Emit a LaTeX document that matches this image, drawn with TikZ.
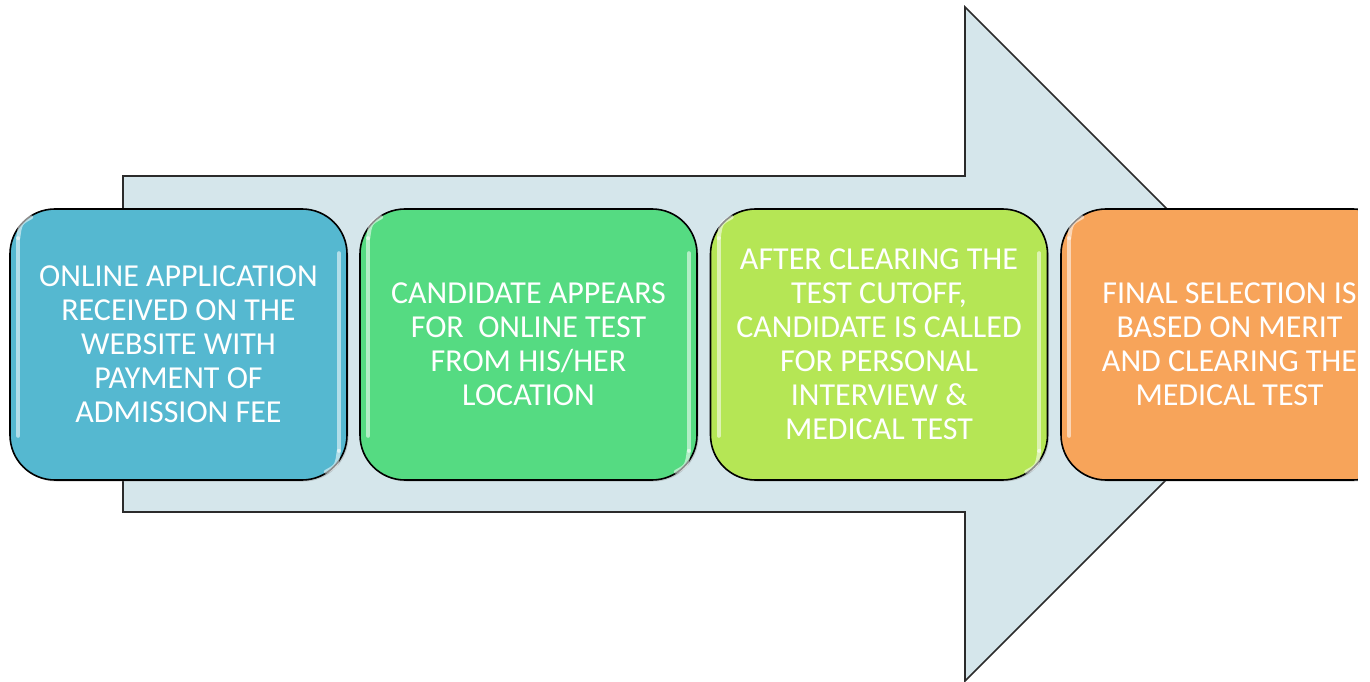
\documentclass[tikz,border=0pt]{standalone}
\usepackage{fontspec}
\setmainfont{Carlito}
\usetikzlibrary{shadows}
\definecolor{arrowfill}{HTML}{D5E6EB}
\definecolor{arrowline}{HTML}{2B2B2B}
\definecolor{cblue}{HTML}{55B8D0}
\definecolor{cgreen}{HTML}{55DB82}
\definecolor{clime}{HTML}{B5E655}
\definecolor{corange}{HTML}{F7A45A}
\tikzset{
  stagebox/.style={draw=black, line width=1.6pt, rounded corners=45pt,
    minimum width=337pt, minimum height=271pt, inner sep=0pt,
    align=center, text=white, font=\fontsize{32}{34}\selectfont,
    drop shadow={shadow xshift=1.5pt, shadow yshift=-1.5pt, opacity=0.35}},
  gloss/.style={white, opacity=0.55, line width=4pt, line cap=round},
  bigarrow/.style={fill=arrowfill, draw=arrowline, line width=1.6pt, line join=miter}
}
\begin{document}
\begin{tikzpicture}[x=1pt,y=1pt]
\useasboundingbox (0,0) rectangle (1370,681);
\fill[white] (0,0) rectangle (1370,681);
% big arrow
\draw[bigarrow] (123,505) -- (965,505) -- (965,674) -- (1302,337) -- (965,0) -- (965,169) -- (123,169) -- cycle;
% stage boxes
\node[stagebox, fill=cblue] (s1) at (178.5,336.5) {ONLINE APPLICATION\\RECEIVED ON THE\\WEBSITE WITH\\PAYMENT OF\\ADMISSION FEE};
\node[stagebox, fill=cgreen] (s2) at (528.5,336.5) {CANDIDATE APPEARS\\FOR\ \ ONLINE TEST\\FROM HIS/HER\\LOCATION};
\node[stagebox, fill=clime] (s3) at (879,336.5) {AFTER CLEARING THE\\TEST CUTOFF,\\CANDIDATE IS CALLED\\FOR PERSONAL\\INTERVIEW \&\\MEDICAL TEST};
\begin{scope}
\clip (0,0) rectangle (1358,681);
\node[stagebox, fill=corange] (s4) at (1229.5,336.5) {FINAL SELECTION IS\\BASED ON MERIT\\AND CLEARING THE\\MEDICAL TEST};
\end{scope}
% glossy highlights
\foreach \b in {s1,s2,s3}{
  \draw[gloss] ([xshift=9pt,yshift=-30pt]\b.north west) .. controls ([xshift=11pt,yshift=-15pt]\b.north west) .. ([xshift=22pt,yshift=-9pt]\b.north west);
  \draw[gloss] ([xshift=9pt,yshift=-30pt]\b.north west) -- ([xshift=9pt,yshift=45pt]\b.south west);
  \draw[gloss] ([xshift=-9pt,yshift=-45pt]\b.north east) -- ([xshift=-9pt,yshift=30pt]\b.south east);
  \draw[gloss] ([xshift=-9pt,yshift=30pt]\b.south east) .. controls ([xshift=-11pt,yshift=15pt]\b.south east) .. ([xshift=-22pt,yshift=9pt]\b.south east);
}
\draw[gloss] ([xshift=9pt,yshift=-30pt]s4.north west) .. controls ([xshift=11pt,yshift=-15pt]s4.north west) .. ([xshift=22pt,yshift=-9pt]s4.north west);
\draw[gloss] ([xshift=9pt,yshift=-30pt]s4.north west) -- ([xshift=9pt,yshift=45pt]s4.south west);
\fill[white] (1358,0) rectangle (1370,681);
\end{tikzpicture}
\end{document}
